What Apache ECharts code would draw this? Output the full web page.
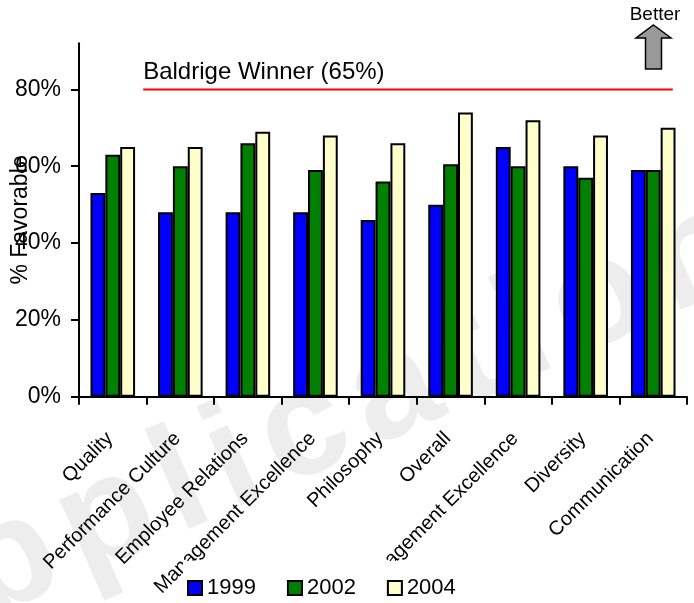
<!DOCTYPE html>
<html>
<head>
<meta charset="utf-8">
<script src="https://cdn.jsdelivr.net/npm/echarts@6/dist/echarts.min.js"></script>
<style>
  html, body { margin: 0; padding: 0; background: #ffffff; }
  #chart { width: 694px; height: 603px; }
</style>
</head>
<body>
<div id="chart"></div>
<script>
// Survey dimensions and % favorable by survey year
const categories = [
  'Quality', 'Performance Culture', 'Employee Relations', 'Management Excellence',
  'Philosophy', 'Overall', 'Management Excellence', 'Diversity', 'Communication'
];
const years = ['1999', '2002', '2004'];
const favorable1999 = [53, 48, 48, 48, 46, 50, 65, 60, 59];
const favorable2002 = [63, 60, 66, 59, 56, 60.5, 60, 57, 59];
const favorable2004 = [65, 65, 69, 68, 66, 74, 72, 68, 70];
const yTickValues = [0, 20, 40, 60, 80];
const baldrigeWinner = 65;
const benchmarkLabel = 'Baldrige Winner (65%)';
const watermarkText = 'application';

const FONT = '"Liberation Sans", Arial, sans-serif';
const Y_MAX = 92;
// The benchmark line has its own hidden scale so that it sits on the 80% gridline.
const BENCH_LEVEL = 80;
const benchMax = baldrigeWinner * Y_MAX / BENCH_LEVEL;

// Watermark letters laid out one by one along a slanted baseline
function watermarkLetters(fontSize, spacing) {
  const ctx = document.createElement('canvas').getContext('2d');
  ctx.font = 'bold ' + fontSize + 'px ' + FONT;
  const children = [];
  let s = 0;
  for (const ch of watermarkText) {
    const w = ctx.measureText(ch).width;
    children.push({
      type: 'text',
      x: s + w / 2,
      y: 0,
      silent: true,
      style: {
        text: ch,
        font: 'bold ' + fontSize + 'px ' + FONT,
        fill: 'rgba(220,220,220,0.5)',
        align: 'center',
        verticalAlign: 'middle'
      }
    });
    s += w + spacing;
  }
  return children;
}

const chart = echarts.init(document.getElementById('chart'), null, { renderer: 'canvas' });

const barStyle = (color) => ({ color: color, borderColor: '#000000', borderWidth: 2 });

const option = {
  backgroundColor: '#ffffff',
  animation: false,
  textStyle: { fontFamily: FONT },
  grid: {
    left: 79, right: 7, top: 43.3, bottom: 206.3,
    containLabel: false,
    outerBoundsMode: 'none'
  },
  legend: {
    data: years,
    bottom: 0,
    left: 183,
    icon: 'rect',
    itemWidth: 14,
    itemHeight: 14,
    itemGap: 31,
    backgroundColor: '#ffffff',
    padding: [16, 8, 4, 4],
    z: 10,
    textStyle: { fontFamily: FONT, fontSize: 22, color: '#000000' }
  },
  xAxis: [
    {
      type: 'category',
      data: categories,
      boundaryGap: true,
      axisLine: { show: true, lineStyle: { color: '#000000', width: 2 } },
      axisTick: { show: true, length: 8, lineStyle: { color: '#000000', width: 2 } },
      axisLabel: {
        interval: 0,
        rotate: 45,
        margin: 36,
        padding: [0, 4, 0, 0],
        color: '#000000',
        fontFamily: FONT,
        fontSize: 20,
        hideOverlap: false
      },
      splitLine: { show: false }
    },
    {
      type: 'value',
      min: 0,
      max: categories.length,
      show: false
    }
  ],
  yAxis: [
    {
      type: 'value',
      min: 0,
      max: Y_MAX,
      name: '% Favorable',
      nameLocation: 'middle',
      nameGap: 47,
      nameMoveOverlap: false,
      nameTextStyle: { fontFamily: FONT, fontSize: 23, color: '#000000' },
      axisLine: { show: true, lineStyle: { color: '#000000', width: 2 } },
      axisTick: { show: true, length: 8, customValues: yTickValues, lineStyle: { color: '#000000', width: 2 } },
      axisLabel: {
        customValues: yTickValues,
        formatter: (v) => v + '%',
        margin: 18,
        color: '#000000',
        fontFamily: FONT,
        fontSize: 23
      },
      splitLine: { show: false }
    },
    {
      type: 'value',
      min: 0,
      max: benchMax,
      show: false
    }
  ],
  series: [
    {
      name: years[0], type: 'bar', data: favorable1999,
      barGap: '0%', barCategoryGap: '34%',
      itemStyle: barStyle('#0000ff')
    },
    {
      name: years[1], type: 'bar', data: favorable2002,
      barGap: '0%', barCategoryGap: '34%',
      itemStyle: barStyle('#008000')
    },
    {
      name: years[2], type: 'bar', data: favorable2004,
      barGap: '0%', barCategoryGap: '34%',
      itemStyle: barStyle('#ffffcc')
    },
    {
      name: 'Baldrige Winner',
      type: 'line',
      xAxisIndex: 1,
      yAxisIndex: 1,
      symbol: 'circle',
      symbolSize: 1,
      showSymbol: true,
      silent: true,
      itemStyle: { color: 'rgba(0,0,0,0)' },
      lineStyle: { color: '#ff0000', width: 2 },
      data: [
        {
          value: [0.95, baldrigeWinner],
          label: {
            show: true,
            position: 'top',
            align: 'left',
            distance: 5,
            formatter: benchmarkLabel,
            fontFamily: FONT,
            fontSize: 24,
            color: '#000000'
          }
        },
        [8.79, baldrigeWinner]
      ]
    }
  ],
  graphic: [
    {
      type: 'text',
      x: 655, y: 15,
      style: {
        text: 'Better',
        font: '19px ' + FONT,
        fill: '#000000',
        align: 'center',
        verticalAlign: 'middle'
      }
    },
    {
      type: 'polygon',
      shape: {
        points: [[653.5, 25], [671, 38], [661.5, 38], [661.5, 69], [645.5, 69], [645.5, 38], [636, 38]]
      },
      style: { fill: '#999999', stroke: '#000000', lineWidth: 1.5 }
    },
    {
      type: 'group',
      x: -122, y: 622,
      rotation: 24 * Math.PI / 180,
      silent: true,
      z: 100,
      children: watermarkLetters(150, 15)
    }
  ]
};

chart.setOption(option);
</script>
</body>
</html>
